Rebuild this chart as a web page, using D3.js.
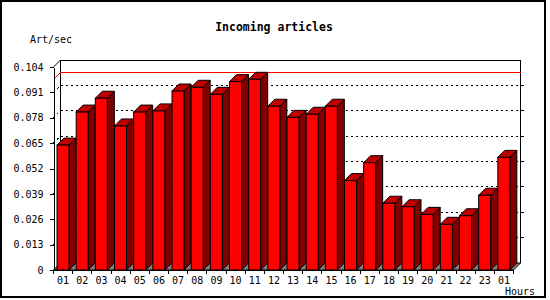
<!DOCTYPE html>
<html>
<head>
<meta charset="utf-8">
<script src="https://cdn.jsdelivr.net/npm/d3@7"></script>
<style>
body{margin:0;background:#fff}
svg{display:block}
text{font-family:"DejaVu Sans Mono",monospace;font-size:10px;fill:#000}
.title{font-weight:bold;font-size:11.5px}
</style>
</head>
<body>
<svg id="chart"></svg>
<script>
var hours = ["01","02","03","04","05","06","07","08","09","10","11","12",
             "13","14","15","16","17","18","19","20","21","22","23","01"]

var artPerSec = [0.0640,0.0809,0.0880,0.0738,0.0809,0.0815,0.0917,0.0936,
                 0.0900,0.0965,0.0977,0.0839,0.0782,0.0798,0.0839,0.0458,
                 0.0550,0.0342,0.0324,0.0285,0.0234,0.0278,0.0383,0.0577]

var yTicks = [0,0.013,0.026,0.039,0.052,0.065,0.078,0.091,0.104]

var screen = {width:550, height:300}
var margins = {top:67, bottom:30, left:53.5, right:36.5}
var graph = {
    width: screen.width-margins.left-margins.right,
    height: screen.height-margins.top-margins.bottom}
var depth = 7

var tickFormat = function(d)
{
    if(d == 0) {return "0"}
    return d3.format(".3f")(d)
}

// outer box round the whole picture
var createFrame = function(target)
{
    target.append("rect")
        .attr("x",1)
        .attr("y",1)
        .attr("width",544)
        .attr("height",296)
        .attr("fill","none")
        .attr("stroke","#000")
        .attr("stroke-width",2)
}

var drawWalls = function(target,xScale,yScale)
{
    var walls = target.append("g")
        .classed("walls",true)
        .attr("shape-rendering","crispEdges")
    var left = margins.left
    var right = margins.left+graph.width
    var base = yScale(0)
    var top = yScale(yTicks[yTicks.length-1])

    // dotted grid on the back wall, and a bit of it on the side wall
    var grid = yTicks.filter(function(v) { return v>0 && v<yTicks[yTicks.length-1] })
    walls.selectAll(".grid")
        .data(grid)
        .enter()
        .append("path")
        .classed("grid",true)
        .attr("d",function(v)
        {
            var y = yScale(v)
            return "M"+left+","+y+"L"+(left+depth)+","+(y-depth)+"L"+(right+depth)+","+(y-depth)
        })
        .attr("fill","none")
        .attr("stroke","#000")
        .attr("stroke-dasharray","2,3")

    walls.selectAll(".rtick")
        .data(grid)
        .enter()
        .append("line")
        .classed("rtick",true)
        .attr("x1",right+depth)
        .attr("x2",right+depth+3)
        .attr("y1",function(v) { return yScale(v)-depth })
        .attr("y2",function(v) { return yScale(v)-depth })
        .attr("stroke","#000")

    // back wall outline
    walls.append("path")
        .attr("d","M"+(left+depth)+","+(base-depth)+"L"+(left+depth)+","+(top-depth)
            +"L"+(right+depth)+","+(top-depth)+"L"+(right+depth)+","+(base-depth))
        .attr("fill","none")
        .attr("stroke","#000")

    walls.append("path")
        .attr("d","M"+left+","+top+"L"+(left+depth)+","+(top-depth))
        .attr("fill","none")
        .attr("stroke","#000")
        .attr("shape-rendering","auto")

    // red line at the peak
    var peak = yScale(d3.max(artPerSec))
    walls.append("path")
        .attr("d","M"+left+","+peak+"L"+(left+depth)+","+(peak-depth)+"L"+(right+depth)+","+(peak-depth))
        .attr("fill","none")
        .attr("stroke","#ff0000")

    // floor
    walls.append("path")
        .attr("d","M"+left+","+base+"L"+(left+depth)+","+(base-depth)
            +"L"+(right+depth)+","+(base-depth)+"L"+right+","+base+"Z")
        .attr("fill","#808080")
        .attr("stroke","#000")
        .attr("shape-rendering","auto")
}

var drawBars = function(target,xScale,yScale)
{
    var base = yScale(0)
    var w = 12
    var inset = 3.5

    var bars = target.append("g")
        .classed("bars",true)
        .selectAll("g")
        .data(artPerSec)
        .enter()
        .append("g")
        .classed("bar",true)
        .attr("stroke","#000")
        .attr("stroke-linejoin","miter")

    bars.append("path")
        .attr("d",function(d,i)
        {
            var x = xScale(i)+inset, y = yScale(d)
            return "M"+(x+w)+","+y+"L"+(x+w+depth)+","+(y-depth)+"L"+(x+w+depth)+","+(base-depth)+"L"+(x+w)+","+base+"Z"
        })
        .attr("fill","#800000")

    bars.append("path")
        .attr("d",function(d,i)
        {
            var x = xScale(i)+inset, y = yScale(d)
            return "M"+x+","+y+"L"+(x+depth)+","+(y-depth)+"L"+(x+w+depth)+","+(y-depth)+"L"+(x+w)+","+y+"Z"
        })
        .attr("fill","#c00000")

    bars.append("rect")
        .attr("x",function(d,i) { return xScale(i)+inset })
        .attr("y",function(d) { return yScale(d) })
        .attr("width",w)
        .attr("height",function(d) { return base-yScale(d) })
        .attr("fill","#ff0000")
}

var createAxes = function(target,xScale,yScale)
{
    var yAxis = d3.axisLeft(yScale)
        .tickValues(yTicks)
        .tickFormat(tickFormat)
        .tickSize(4)
        .tickSizeOuter(0)
        .tickPadding(6)

    var xAxis = d3.axisBottom(xScale)
        .tickFormat(function(i) { return hours[i] })
        .tickSize(0)
        .tickPadding(6.5)

    var axes = target.append("g")
        .attr("shape-rendering","crispEdges")

    axes.append("g")
        .attr("transform","translate("+margins.left+",0)")
        .call(yAxis)
        .attr("font-family","DejaVu Sans Mono")
        .attr("font-size",10)

    var xg = axes.append("g")
        .attr("transform","translate(0,"+yScale(0)+")")
        .call(xAxis)
        .attr("font-family","DejaVu Sans Mono")
        .attr("font-size",10)
    xg.select(".domain").remove()

    var bounds = d3.range(hours.length).map(function(i) { return xScale(i) })
    bounds.push(xScale.range()[1])
    axes.selectAll(".xtick")
        .data(bounds)
        .enter()
        .append("line")
        .classed("xtick",true)
        .attr("x1",function(x) { return x })
        .attr("x2",function(x) { return x })
        .attr("y1",yScale(0))
        .attr("y2",yScale(0)+4)
        .attr("stroke","#000")

    axes.append("line")
        .attr("x1",margins.left)
        .attr("x2",margins.left+graph.width)
        .attr("y1",yScale(0))
        .attr("y2",yScale(0))
        .attr("stroke","#000")
}

var createLabels = function(target)
{
    var labels = target.append("g")
        .classed("labels",true)

    labels.append("text")
        .text("Incoming articles")
        .classed("title",true)
        .attr("text-anchor","middle")
        .attr("x",274)
        .attr("y",31)

    labels.append("text")
        .text("Art/sec")
        .attr("x",30)
        .attr("y",42.5)

    labels.append("text")
        .text("Hours")
        .attr("x",505)
        .attr("y",295)
}

var makeGraph = function(target)
{
    target.attr("width",screen.width)
        .attr("height",screen.height)

    var xScale = d3.scaleBand()
        .domain(d3.range(hours.length))
        .range([margins.left,margins.left+graph.width])

    var yScale = d3.scaleLinear()
        .domain([0,yTicks[yTicks.length-1]])
        .range([margins.top+graph.height,margins.top])

    createFrame(target)
    drawWalls(target,xScale,yScale)
    drawBars(target,xScale,yScale)
    createAxes(target,xScale,yScale)
    createLabels(target)
}

makeGraph(d3.select("#chart"))
</script>
</body>
</html>
